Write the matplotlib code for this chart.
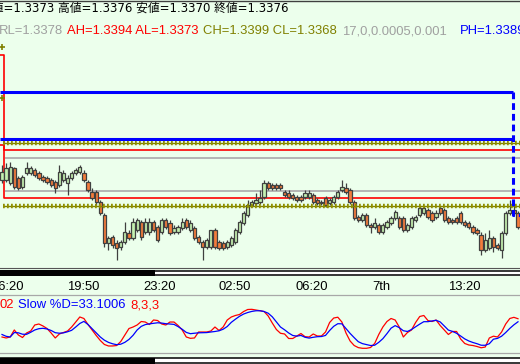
import numpy as np
import matplotlib
matplotlib.use('Agg')
import matplotlib.pyplot as plt
from matplotlib.patches import Rectangle
from matplotlib import transforms

# --- datos (precios en pips sobre 1.3300) ---
base = 1.3300
open_pips = [80.9, 80.9, 79.5, 86.1, 81.7, 77.8, 83.9, 83.9, 85.2, 83.9,
             82.2, 81.7, 80.9, 80.0, 78.7, 80.9, 79.5, 81.7, 83.9, 84.4,
             83.9, 80.0, 75.6, 75.6, 71.2, 65.5, 53.3, 55.9, 53.3, 51.5,
             53.7, 57.7, 55.5, 59.0, 62.5, 58.1, 58.1, 62.5, 60.3, 58.1,
             63.4, 62.0, 58.1, 58.1, 59.9, 63.4, 59.0, 59.9, 55.9, 53.7,
             51.5, 51.5, 59.0, 53.7, 53.3, 51.5, 52.4, 53.7, 58.1, 62.0,
             65.5, 69.9, 70.8, 71.2, 73.4, 79.5, 78.7, 78.7, 78.7, 75.6,
             75.2, 74.3, 73.4, 73.4, 73.4, 73.4, 74.3, 72.1, 71.2, 73.0,
             70.8, 71.2, 73.4, 76.5, 77.4, 76.5, 71.2, 64.7, 63.4, 65.5,
             61.2, 60.3, 61.2, 58.1, 60.3, 62.0, 64.2, 64.2, 64.2, 59.0,
             60.3, 63.4, 65.5, 66.4, 67.7, 66.4, 64.7, 68.6, 67.7, 64.2,
             63.4, 64.2, 66.4, 62.5, 62.0, 60.3, 59.0, 56.8, 50.2, 51.1,
             55.5, 52.4, 50.2, 57.7, 66.4, 67.7, 66.4]
close_pips = [84.4, 86.1, 86.5, 77.8, 77.4, 82.2, 86.1, 86.1, 83.0, 81.7,
              80.9, 80.0, 78.7, 77.4, 84.4, 83.9, 81.7, 83.9, 85.2, 86.5,
              80.9, 76.5, 73.0, 71.2, 66.4, 53.3, 55.5, 52.4, 51.1, 53.7,
              58.1, 55.5, 62.5, 63.4, 55.9, 62.5, 62.5, 59.0, 54.6, 63.4,
              60.3, 57.7, 59.9, 60.3, 62.5, 60.3, 62.0, 55.5, 53.7, 51.5,
              54.6, 59.0, 51.5, 51.1, 51.1, 53.7, 55.5, 59.0, 62.5, 66.4,
              69.9, 71.2, 72.1, 73.0, 79.5, 77.4, 77.4, 77.4, 77.4, 74.3,
              73.4, 73.0, 72.1, 72.1, 75.2, 75.2, 71.2, 70.8, 70.8, 69.9,
              72.1, 73.4, 75.6, 77.8, 75.6, 71.2, 64.2, 63.4, 65.5, 61.2,
              60.3, 62.0, 58.1, 61.2, 62.5, 64.2, 66.9, 60.3, 59.0, 61.2,
              64.2, 64.7, 68.6, 68.6, 64.7, 63.4, 66.4, 66.4, 63.4, 62.5,
              62.5, 62.5, 62.5, 61.2, 60.3, 58.1, 57.7, 50.2, 54.6, 55.5,
              51.5, 51.1, 57.7, 66.4, 67.7, 66.4, 60.3]
high_pips = [87.4, 88.3, 88.7, 86.5, 82.6, 83.0, 88.7, 86.9, 86.1, 84.8,
             83.0, 82.6, 81.7, 80.9, 87.4, 85.2, 83.0, 84.8, 86.1, 87.4,
             85.2, 80.9, 77.4, 76.5, 72.1, 66.4, 56.4, 56.8, 54.6, 54.6,
             62.5, 59.0, 64.2, 64.2, 63.4, 64.2, 64.2, 63.4, 61.2, 64.2,
             64.2, 63.4, 61.2, 61.2, 64.2, 64.2, 63.4, 60.7, 56.8, 54.6,
             55.5, 59.0, 59.9, 54.6, 54.2, 54.6, 56.4, 59.9, 63.4, 67.3,
             72.1, 72.1, 75.2, 76.5, 80.9, 80.4, 79.5, 79.5, 79.5, 76.5,
             76.5, 75.2, 74.3, 74.3, 76.5, 76.5, 75.2, 73.0, 72.1, 73.9,
             73.0, 74.3, 76.5, 80.9, 79.5, 77.4, 72.1, 65.5, 66.4, 66.4,
             62.0, 64.2, 62.0, 62.0, 63.4, 65.1, 67.7, 65.1, 65.1, 62.0,
             65.1, 65.5, 69.5, 69.5, 68.6, 67.3, 67.7, 69.5, 68.6, 65.1,
             64.2, 65.1, 67.3, 63.4, 62.9, 61.2, 59.9, 58.1, 57.7, 59.0,
             56.4, 53.3, 58.5, 67.3, 72.1, 69.9, 67.3]
low_pips = [79.5, 80.0, 78.7, 77.0, 76.5, 77.0, 83.0, 83.0, 82.2, 80.9,
            80.0, 79.1, 77.8, 75.2, 77.8, 80.0, 74.3, 80.9, 83.0, 83.5,
            80.0, 75.6, 72.1, 69.9, 65.5, 51.5, 50.2, 51.1, 45.8, 50.2,
            52.8, 54.6, 54.6, 58.1, 54.6, 57.2, 56.8, 58.1, 53.7, 57.2,
            59.4, 56.8, 57.2, 57.2, 59.0, 59.4, 58.1, 54.6, 52.8, 45.8,
            50.7, 50.7, 50.7, 50.2, 50.2, 50.7, 51.5, 52.8, 57.2, 61.2,
            64.7, 69.0, 69.9, 70.3, 72.5, 76.5, 76.5, 76.5, 76.5, 73.4,
            72.5, 72.1, 71.2, 71.2, 72.5, 72.5, 70.3, 69.9, 69.9, 69.0,
            69.9, 70.3, 72.5, 75.6, 74.7, 70.3, 63.4, 62.5, 62.5, 60.3,
            57.7, 59.4, 57.2, 57.2, 59.4, 61.2, 63.4, 59.4, 58.1, 58.1,
            59.4, 62.5, 64.7, 65.5, 63.8, 62.5, 63.8, 65.5, 62.5, 61.6,
            61.6, 61.6, 61.6, 60.3, 59.4, 57.2, 56.8, 48.0, 49.4, 50.2,
            49.4, 50.2, 46.7, 56.8, 65.5, 65.5, 59.4]

# estocastico lento
k_vals = [27.6, 25.9, 27.6, 39.7, 31.0, 26.7, 34.5, 37.9, 48.3, 50.0,
          46.6, 42.2, 34.5, 25.9, 32.8, 35.3, 37.9, 44.8, 53.4, 62.1,
          59.5, 49.1, 39.7, 30.2, 21.6, 14.7, 12.1, 12.1, 12.9, 19.8,
          31.0, 42.2, 44.8, 48.3, 54.3, 53.4, 49.1, 56.9, 56.0, 50.0,
          48.3, 53.4, 53.4, 47.4, 39.7, 27.6, 25.3, 25.9, 36.2, 36.2,
          36.2, 37.9, 44.8, 38.8, 44.8, 56.9, 62.1, 64.7, 66.4, 71.5,
          75.0, 75.3, 74.1, 72.9, 71.5, 63.8, 51.7, 40.5, 34.0, 32.8,
          25.0, 25.0, 29.3, 33.6, 28.1, 27.6, 32.8, 29.3, 29.3, 36.2,
          52.6, 60.3, 61.7, 53.4, 34.5, 20.7, 12.9, 9.3, 8.1, 8.1,
          9.5, 16.4, 31.9, 44.8, 54.3, 59.5, 56.9, 44.8, 27.6, 35.3,
          39.7, 52.6, 62.9, 64.7, 56.0, 54.3, 56.9, 47.4, 39.7, 31.9,
          37.1, 37.1, 24.1, 16.4, 13.8, 12.9, 11.2, 9.0, 10.3, 25.9,
          29.0, 27.6, 36.2, 50.0, 59.5, 61.5, 59.1]
d_vals = [31.9, 28.8, 27.6, 35.3, 34.8, 32.4, 32.2, 35.7, 39.7, 41.9,
          42.6, 41.4, 38.8, 35.0, 34.1, 34.7, 36.6, 39.1, 44.8, 50.9,
          54.5, 49.1, 41.9, 34.8, 27.6, 22.1, 18.3, 15.9, 14.3, 15.2,
          18.4, 23.4, 30.5, 39.7, 45.9, 49.0, 50.2, 51.2, 52.1, 51.6,
          50.5, 50.0, 49.3, 45.5, 40.9, 35.5, 33.3, 34.1, 34.8, 35.0,
          35.2, 36.2, 37.1, 38.3, 41.0, 45.7, 52.9, 58.3, 63.3, 67.2,
          69.8, 71.7, 72.8, 72.9, 71.5, 68.6, 62.4, 53.6, 44.8, 40.0,
          34.5, 30.2, 29.1, 30.3, 27.1, 25.7, 27.1, 28.1, 28.4, 30.3,
          38.8, 46.0, 50.5, 50.3, 42.1, 33.8, 26.5, 19.5, 16.2, 14.5,
          12.9, 13.4, 18.4, 24.7, 33.4, 42.8, 47.2, 43.8, 38.4, 37.1,
          40.5, 45.2, 49.8, 54.0, 54.0, 55.2, 56.4, 53.6, 46.6, 39.5,
          37.2, 34.0, 29.3, 24.3, 20.7, 18.1, 16.0, 13.4, 13.3, 16.0,
          23.8, 25.2, 29.0, 35.3, 42.4, 48.6, 53.8]

time_ticks = [1.2, 19.8, 38.6, 56.9, 75.7, 92.6, 112.8]
time_labels = ['16:20', '19:50', '23:20', '02:50', '06:20', '7th', '13:20']

# niveles de las lineas horizontales (antes / despues del primer bar)
ah_levels = [1.34356, 1.3394]
al_levels = [1.33962, 1.3373]
ch_levels = [1.3439, 1.3397]
cl_levels = [1.34167, 1.33695]
gray_levels = [1.33905, 1.3376]
ph_levels = [1.34194, 1.33988]
ph_last = 1.33655

header1 = '始値=1.3373 高値=1.3376 安値=1.3370 終値=1.3376'
header2 = ['RL=1.3378', 'AH=1.3394 AL=1.3373', 'CH=1.3399 CL=1.3368',
           '17,0,0.0005,0.001', 'PH=1.3389']

W, H = 520, 364
BG = '#ecffec'
UP = '#c4f0b0'
DOWN = '#f47c3c'
EDGE = '#404040'
OLIVE = '#808000'


def fx(px):
    return px / W


def fy(py):
    return 1 - py / H


fig = plt.figure(figsize=(W / 100, H / 100), dpi=100, facecolor=BG)

# grafico de precios
ax = fig.add_axes([0, fy(268), 1, (268 - 37) / H])
ax.set_facecolor(BG)
ax.set_xlim(-0.49, 126.49)
ax.set_ylim(1.334235, 1.34434)
ax.axis('off')
xl, xr = ax.get_xlim()
sw = 0.5

o = base + np.array(open_pips) / 1e4
c = base + np.array(close_pips) / 1e4
hi = base + np.array(high_pips) / 1e4
lo = base + np.array(low_pips) / 1e4
idx = np.arange(len(o))
up = c >= o

# lineas grises y rojas
ax.hlines(gray_levels, 0.7, xr, color='#b4b4b4', lw=1.4, zorder=1)
ax.plot([xl, sw, sw, xr], [ah_levels[0], ah_levels[0], ah_levels[1], ah_levels[1]],
        color='red', lw=1.2, zorder=2)
ax.plot([xl, sw, sw, xr], [al_levels[0], al_levels[0], al_levels[1], al_levels[1]],
        color='red', lw=1.2, zorder=2)

# velas
ax.vlines(idx, lo, hi, color=EDGE, lw=0.9, zorder=3)
ax.bar(idx[up], np.maximum((c - o)[up], 0.00003), bottom=o[up], width=0.8,
       color=UP, edgecolor=EDGE, linewidth=0.9, zorder=4)
ax.bar(idx[~up], np.maximum((o - c)[~up], 0.00003), bottom=c[~up], width=0.8,
       color=DOWN, edgecolor=EDGE, linewidth=0.9, zorder=4)

# lineas oliva punteadas
for lev in [ch_levels[1], cl_levels[1]]:
    ax.hlines(lev, 0.3, xr, color=OLIVE, lw=1.0, zorder=5)
    ax.hlines(lev, 0.3, xr, color='#8f8f00', lw=3.2, linestyles=(0, (0.4, 0.5)), zorder=5)
ax.plot([0, 0], [ch_levels[0], cl_levels[0]], '+', color=OLIVE, ms=4, mew=1.2, zorder=5)

# lineas azules
ax.hlines(ph_levels, xl, 124.7, color='#0000ff', lw=2.2, zorder=6)
ax.plot([124.7, 124.7, xr], [ph_levels[0], ph_last, ph_last], color='#0000ff',
        lw=2.2, ls=(0, (2.2, 1.3)), zorder=6)

# etiquetas de tiempo
trans = transforms.blended_transform_factory(ax.transData, fig.transFigure)
for t, lab in zip(time_ticks, time_labels):
    ax.text(t, fy(290), lab, transform=trans, ha='center', va='baseline',
            fontsize=9.4, family='Liberation Sans', color='black', clip_on=False)

# estocastico
ax2 = fig.add_axes([0, fy(353), 1, 58 / H])
ax2.set_facecolor(BG)
ax2.set_xlim(xl, xr)
ax2.set_ylim(0, 100)
ax2.plot(idx, k_vals, color='#ff0000', lw=0.9)
ax2.plot(idx, d_vals, color='#0000ff', lw=0.9)
ax2.set_xticks([])
ax2.set_yticks([])
for s in ['left', 'right']:
    ax2.spines[s].set_visible(False)
for s in ['top', 'bottom']:
    ax2.spines[s].set_color('#a8a8a8')
    ax2.spines[s].set_linewidth(0.9)

fig.text(fx(0), fy(308), '02', color='red', fontsize=9.4, family='Liberation Sans', va='baseline')
fig.text(fx(18), fy(308), 'Slow %D=33.1006', color='#0000ff', fontsize=9.4,
         family='Liberation Sans', va='baseline')
fig.text(fx(130), fy(308), '8,3,3', color='red', fontsize=9.4, family='Liberation Sans', va='baseline')


# bandas negras (marco)
def band(y0):
    fig.add_artist(Rectangle((0, fy(y0 + 6)), 1, 6 / H, transform=fig.transFigure,
                             facecolor='white', edgecolor='none'))
    fig.add_artist(Rectangle((0, fy(y0 + 6)), fx(155), 6 / H, transform=fig.transFigure,
                             facecolor='black', edgecolor='none'))
    for yy in [y0 + 0.75, y0 + 5.25]:
        fig.add_artist(plt.Line2D([0, 1], [fy(yy), fy(yy)], transform=fig.transFigure,
                                  color='black', lw=1.1))


band(270)
band(357.5)
fig.add_artist(plt.Line2D([0, 1], [fy(268), fy(268)], transform=fig.transFigure,
                          color='#555555', lw=0.8))
fig.add_artist(plt.Line2D([0, 1], [fy(0.5), fy(0.5)], transform=fig.transFigure,
                          color='#404040', lw=1.0))

# cabecera
fig.text(fx(-20), fy(12), header1, color='black', fontsize=8.5,
         family=['DejaVu Sans', 'Noto Sans CJK JP'], va='baseline')
colors2 = ['#a0a0a0', 'red', OLIVE, '#a0a0a0', '#0000ff']
for txt, px, col in zip(header2, [-1, 67, 203, 342, 460], colors2):
    fig.text(fx(px), fy(34), txt, color=col, fontsize=9.4, family='Liberation Sans', va='baseline')

fig.savefig('out.png', dpi=100, facecolor=BG)
